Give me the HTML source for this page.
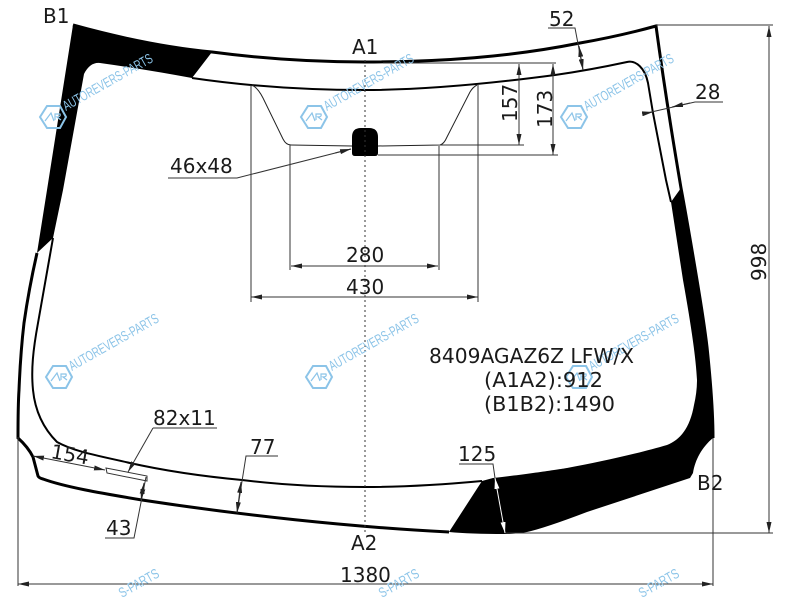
<!DOCTYPE html>
<html>
<head>
<meta charset="utf-8">
<style>
html,body{margin:0;padding:0;background:#fff;width:800px;height:600px;overflow:hidden}
svg{display:block}
text{font-family:"DejaVu Sans",sans-serif;font-size:20px;fill:#1a1a1a}
.wm{font-family:"Liberation Sans",sans-serif;font-size:14px;fill:#8cc4e8}
</style>
</head>
<body>
<svg width="800" height="600" viewBox="0 0 800 600" xmlns="http://www.w3.org/2000/svg">
<defs>
<marker id="a" viewBox="0 0 11 5" refX="11" refY="2.5" markerWidth="11" markerHeight="5" markerUnits="userSpaceOnUse" orient="auto-start-reverse"><path d="M0 0L11 2.5L0 5z" fill="#222"/></marker>
<marker id="b" viewBox="0 0 11 5" refX="11" refY="2.5" markerWidth="11" markerHeight="5" markerUnits="userSpaceOnUse" orient="auto-start-reverse"><path d="M0 0L11 2.5L0 5z" fill="#fff"/></marker>
<g id="w">
<path d="M-13 0L-6 -11H7L13 0L7 11H-6z" fill="none" stroke="#8cc4e8" stroke-width="2"/>
<path d="M-8 4L-2 -4L1 4M2 3V-3H7Q8 0 4 0L8 3" fill="none" stroke="#8cc4e8" stroke-width="1.2"/>
<text class="wm" transform="translate(13,-6) rotate(-29.5)" textLength="101" lengthAdjust="spacingAndGlyphs">AUTOREVERS-PARTS</text>
</g>
</defs>

<!-- black print areas -->
<path d="M73 25C120 38 170 48 212 52L192 78Q150 70 100 63Q90 62 84 74L63 190L53 238L37 253L47 190Z" fill="#000"/>
<path d="M671 202L681 188C687 220 692 250 697 280C702 310 705 330 707 347C711 385 713 415 713 438C702 447 695 460 693 473L690 478L587 512Q545 528 527 532Q515 534 505 534Q470 534 449 532L482 481L493 478C530 474 567 468 567 468C600 462 640 453 667 445C680 440 690 428 694 405Q697 392 697 380C696 360 692 330 683 280Z" fill="#000"/>

<!-- outlines -->
<path d="M73 25C120 38 170 48 212 52C265 59 320 62 365 62C440 62 510 57 580 43Q620 36 656 26C664 85 672 135 681 188C687 220 692 250 697 280C702 310 705 330 707 347C711 385 713 415 713 438" fill="none" stroke="#000" stroke-width="3"/>
<path d="M449 532C350 527 240 515 142 500C100 493 65 487 43 479Q39 478 38 476L33 457Q28 447 18 438C18 420 18 405 19 390C20 365 22 340 24 323C28 295 32 275 37 253" fill="none" stroke="#000" stroke-width="3"/>
<path d="M192 78C260 88 320 90 365 90C420 90 480 85 555 75Q590 70 627 62C636 60 645 68 648 83L653 113L666 180L671 202" fill="none" stroke="#000" stroke-width="2"/>
<path d="M53 238L38 323C33 350 31 370 33 390C35 410 43 428 57 442C75 452 100 456 130 463C170 472 210 477 242 480C290 486 330 487 365 487C410 487 450 484 482 481" fill="none" stroke="#000" stroke-width="2"/>

<!-- sensor area -->
<path d="M252 85Q258 88 263 98L283 139Q286 145 291 145L352 146M378 146L440 145Q444 144 447 137L470 92Q473 87 477 85" fill="none" stroke="#222" stroke-width="1"/>
<path d="M352 137Q352 128 361 128H369Q378 128 378 137V153Q378 156 375 156H355Q352 156 352 153Z" fill="#000"/>

<!-- centre line -->
<line x1="365" y1="60" x2="365" y2="533" stroke="#333" stroke-width="1" stroke-dasharray="2 3"/>

<!-- dimension lines -->
<g fill="none" stroke="#333" stroke-width="1">
<line x1="251" y1="85" x2="251" y2="302"/>
<line x1="478" y1="85" x2="478" y2="302"/>
<line x1="290" y1="145" x2="290" y2="270"/>
<line x1="439" y1="146" x2="439" y2="270"/>
<line x1="251" y1="297" x2="478" y2="297" marker-start="url(#a)" marker-end="url(#a)"/>
<line x1="291" y1="266" x2="438" y2="266" marker-start="url(#a)" marker-end="url(#a)"/>
<line x1="383" y1="63" x2="556" y2="63"/>
<line x1="440" y1="145" x2="524" y2="145"/>
<line x1="378" y1="155" x2="558" y2="155"/>
<line x1="519" y1="64" x2="519" y2="145" marker-start="url(#a)" marker-end="url(#a)"/>
<line x1="553" y1="64" x2="553" y2="155" marker-start="url(#a)" marker-end="url(#a)"/>
<polyline points="168,178 237,178 351,149"/>
<line x1="335" y1="153" x2="351" y2="149" marker-end="url(#a)"/>
<polyline points="548,28 575,28 583,70"/>
<line x1="579" y1="46" x2="583" y2="70" marker-start="url(#a)" marker-end="url(#a)"/>
<polyline points="723,102 695,102 647,113"/>
<line x1="647" y1="113" x2="653" y2="112" marker-end="url(#a)"/>
<line x1="690" y1="103" x2="672" y2="107" marker-end="url(#a)"/>
<line x1="656" y1="25" x2="773" y2="25"/>
<line x1="505" y1="533" x2="773" y2="533"/>
<line x1="769" y1="26" x2="769" y2="533" marker-start="url(#a)" marker-end="url(#a)"/>
<line x1="18" y1="437" x2="18" y2="586"/>
<line x1="713" y1="438" x2="713" y2="586"/>
<line x1="18" y1="584" x2="713" y2="584" marker-start="url(#a)" marker-end="url(#a)"/>
<line x1="153" y1="428" x2="217" y2="428"/>
<line x1="153" y1="428" x2="128" y2="472" marker-end="url(#a)"/>
<path d="M106 468L107 473L147 481L147 476Z"/>
<line x1="33" y1="456" x2="105" y2="470" marker-start="url(#a)" marker-end="url(#a)"/>
<polyline points="105,538 134,538 146,477"/>
<line x1="144" y1="483" x2="141" y2="500" marker-start="url(#a)" marker-end="url(#a)"/>
<polyline points="278,456 246,456 237,513"/>
<line x1="241" y1="482" x2="237" y2="513" marker-start="url(#a)" marker-end="url(#a)"/>
<polyline points="459,464 493,464 495,478"/>
</g>
<line x1="495" y1="478" x2="505" y2="533" stroke="#fff" stroke-width="1" marker-start="url(#b)" marker-end="url(#b)"/>

<!-- watermarks -->
<use href="#w" x="53" y="117"/>
<use href="#w" x="314" y="117"/>
<use href="#w" x="574" y="117"/>
<use href="#w" x="59" y="377"/>
<use href="#w" x="319" y="377"/>
<use href="#w" x="579" y="377"/>
<text class="wm" transform="translate(122,598) rotate(-29.5)" textLength="44" lengthAdjust="spacingAndGlyphs">S-PARTS</text>
<text class="wm" transform="translate(382,598) rotate(-29.5)" textLength="44" lengthAdjust="spacingAndGlyphs">S-PARTS</text>
<text class="wm" transform="translate(642,598) rotate(-29.5)" textLength="44" lengthAdjust="spacingAndGlyphs">S-PARTS</text>

<!-- labels -->
<text x="43" y="23">B1</text>
<text x="352" y="54">A1</text>
<text x="549" y="26">52</text>
<text x="695" y="99">28</text>
<text x="170" y="173">46x48</text>
<text x="346" y="262">280</text>
<text x="346" y="294">430</text>
<text transform="translate(517,122) rotate(-90)">157</text>
<text transform="translate(552,128) rotate(-90)">173</text>
<text transform="translate(766,281) rotate(-90)">998</text>
<text x="429" y="363" textLength="205" lengthAdjust="spacingAndGlyphs">8409AGAZ6Z LFW/X</text>
<text x="484" y="387" textLength="119" lengthAdjust="spacingAndGlyphs">(A1A2):912</text>
<text x="484" y="411" textLength="131" lengthAdjust="spacingAndGlyphs">(B1B2):1490</text>
<text x="153" y="425">82x11</text>
<text x="50" y="458" transform="rotate(10 50 458)">154</text>
<text x="250" y="454">77</text>
<text x="458" y="461">125</text>
<text x="697" y="490">B2</text>
<text x="106" y="535">43</text>
<text x="351" y="550">A2</text>
<text x="340" y="582">1380</text>
</svg>
</body>
</html>
